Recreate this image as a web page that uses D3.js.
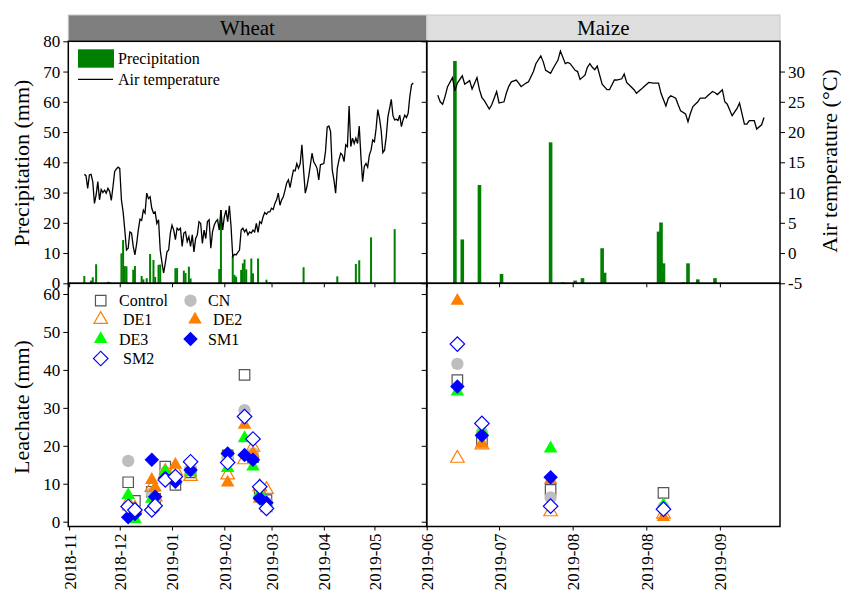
<!DOCTYPE html>
<html>
<head>
<meta charset="utf-8">
<script src="https://cdn.jsdelivr.net/npm/d3@7"></script>
<style>
    body { margin: 0; background: #fff; }
    svg text { font-family: "Liberation Serif", "Times New Roman", serif; fill: #000; }
</style>
</head>
<body>
<div id="chart"></div>
<script>
// daily air temperature, wheat season, first day 2018-11-10
const wheatTempStart = '2018-11-10'
const wheatTemp = [
    13.0, 12.8, 10.7, 12.9, 13.0, 11.8, 8.2, 9.6, 11.8, 8.8,
    10.5, 10.0, 10.4, 9.9, 10.7, 10.2, 8.7, 11.0, 13.5, 13.9, 14.2,
    14.0, 8.8, 6.8, 3.8, 0.5, 0.8, 3.5, 3.3, 1.1, -0.3, 1.5,
    3.8, 5.6, 5.4, 7.1, 6.6, 9.9, 9.0, 9.3, 7.4, 6.6,
    6.8, 4.9, 5.5, 0.5, -1.5, -3.3, -1.7, 0.2, 0.5, 3.3, 4.6,
    3.8, 2.2, 4.1, 3.8, 4.1, 1.1, 3.3, 3.5, 1.9, 2.7,
    1.1, 3.0, 0.2, 2.4, 3.0, 5.2, 4.9, 1.6, 3.8, 2.4,
    5.2, 5.5, 0.8, 3.5, 4.6, 5.2, 5.5, 3.8, 7.1, 3.8,
    6.0, 7.1, 5.2, 7.8, 4.4, -0.6, -0.2, -0.3, 0.1, 0.5,
    3.8, 4.1, 3.5, 3.9, 3.0, 3.5, 3.3, 3.8, 3.5, 4.9,
    3.4, 5.2, 4.9, 6.0, 6.7, 6.4, 6.8, 6.8, 7.4, 7.2,
    8.2, 8.8, 9.9, 7.9, 8.8, 9.3, 10.4, 11.6, 12.1, 10.8,
    12.4, 13.7, 13.6, 14.8, 14.0, 14.8, 17.9, 13.7, 9.9, 11.0,
    12.6, 14.5, 16.5, 15.1, 14.6, 14.0, 12.1, 14.6, 14.7, 14.8, 16.8, 20.8,
    21.0, 20.1, 13.7, 12.1, 9.9, 14.0, 15.4, 16.5, 16.2, 15.1, 17.9,
    17.6, 24.3, 17.6, 19.0, 18.1, 19.0, 18.1, 21.0, 15.9, 11.8,
    14.3, 14.8, 14.2, 16.2, 17.0, 18.7, 18.4, 20.6, 23.7, 22.3,
    20.3, 16.6, 17.0, 19.2, 22.5, 23.9, 25.4, 22.7, 22.0, 22.1,
    21.9, 22.8, 20.9, 22.0, 22.8, 22.4, 23.1, 25.9, 27.8, 28.1
]

// maize season temperature, days counted from 2019-06-07
const maizeTempStart = '2019-06-07'
const maizeTempDay = [0, 1, 2, 3, 4, 6, 7, 8, 10, 11, 13, 14, 16, 17, 18, 19, 21, 22, 23, 24, 25,
    27, 28, 29, 30, 32, 33, 34, 36, 37, 39, 40, 42, 43, 44, 46, 47, 49, 50, 52, 53, 54, 56, 57, 58,
    60, 61, 62, 63, 64, 65, 67, 69, 70, 72, 73, 75, 76, 77, 79, 80, 81, 83, 84, 86, 88, 90, 91,
    93, 94, 95, 97, 98, 99, 101, 102, 103, 104, 106, 107, 109, 110, 112, 113, 114, 116, 117, 118,
    120, 122, 123, 125, 126, 127, 129, 130, 132, 133]
const maizeTemp = [26.1, 25.0, 24.6, 25.9, 27.5, 29.0, 26.8, 28.1, 29.3, 27.9, 28.5, 27.1, 29.0, 27.0,
    25.7, 25.2, 23.8, 24.5, 25.6, 26.7, 24.8, 25.0, 26.5, 27.6, 28.3, 28.6, 28.1, 27.5, 28.1, 28.3,
    30.0, 31.3, 32.6, 31.6, 30.2, 29.7, 30.5, 31.9, 33.4, 31.3, 31.5, 31.3, 30.2, 30.0, 28.7,
    29.4, 30.7, 31.3, 30.7, 30.3, 30.9, 27.9, 27.0, 27.0, 28.6, 28.6, 28.8, 29.6, 28.2, 27.4, 27.0,
    26.4, 27.1, 27.5, 28.2, 28.1, 28.1, 26.4, 24.3, 25.6, 26.0, 25.6, 24.5, 23.5, 23.0, 21.7, 23.1,
    24.2, 25.0, 25.6, 25.6, 26.0, 26.7, 26.5, 26.2, 27.0, 25.0, 24.6, 22.7, 23.9, 24.8, 21.3, 21.3,
    21.9, 21.9, 20.5, 21.2, 22.4]

const wheatRainDates = ['2018-11-10', '2018-11-14', '2018-11-15', '2018-11-17', '2018-11-24', '2018-11-25',
    '2018-12-02', '2018-12-03', '2018-12-04', '2018-12-05', '2018-12-09', '2018-12-10', '2018-12-14',
    '2018-12-15', '2018-12-17', '2018-12-19', '2018-12-21', '2018-12-22', '2018-12-24', '2018-12-25',
    '2019-01-03', '2019-01-04', '2019-01-08', '2019-01-09', '2019-01-11', '2019-01-12', '2019-01-29',
    '2019-01-30', '2019-02-06', '2019-02-07', '2019-02-08', '2019-02-11', '2019-02-12', '2019-02-13',
    '2019-02-14', '2019-02-17', '2019-02-18', '2019-02-21', '2019-02-26', '2019-02-28', '2019-03-05',
    '2019-03-20', '2019-04-09', '2019-04-20', '2019-04-22', '2019-04-29', '2019-05-13']
const wheatRain = [2.4, 0.9, 2.0, 6.3, 0.5, 0.4,
    9.9, 14.3, 5.7, 5.6, 4.5, 5.7, 2.4,
    1.3, 1.7, 9.7, 7.7, 2.1, 6.1, 6.2,
    5.0, 5.0, 4.2, 3.4, 5.5, 1.6, 4.7,
    24.2, 9.0, 2.8, 2.2, 4.4, 6.6, 7.9,
    4.6, 8.2, 3.3, 8.2, 1.2, 0.4, 0.2,
    5.3, 2.3, 6.4, 7.6, 15.2, 17.9]

const maizeRainDates = ['2019-06-14', '2019-06-17', '2019-06-24', '2019-07-03', '2019-07-23', '2019-07-28',
    '2019-08-02', '2019-08-05', '2019-08-13', '2019-08-14', '2019-09-05', '2019-09-06', '2019-09-07',
    '2019-09-15', '2019-09-17', '2019-09-21', '2019-09-28']
const maizeRain = [73.5, 14.5, 32.5, 3.1, 46.6, 0.3,
    0.9, 1.7, 11.6, 3.5, 17.1, 20.1, 6.6,
    0.3, 6.6, 1.3, 1.7]

// leachate
const treatments = ['Control', 'CN', 'DE1', 'DE2', 'DE3', 'SM1', 'SM2']
const wheatLeachDates = ['2018-12-06', '2018-12-10', '2018-12-20', '2018-12-22', '2018-12-28', '2019-01-03',
    '2019-01-12', '2019-02-03', '2019-02-13', '2019-02-18', '2019-02-22', '2019-02-26']
const wheatLeach = [
    [10.4, 5.5, 7.9, 6.0, 14.5, 9.7, 13.0, 17.5, 38.7, 17.0, 7.0, 5.7],   // Control
    [16.0, 3.0, 7.5, 6.0, 13.0, 11.5, 14.0, 17.0, 29.4, 18.0, 6.5, 5.0],  // CN
    [5.0, 3.5, 9.0, 6.5, 12.5, 13.5, 11.9, 12.3, 16.3, 19.6, 9.2, 8.5],   // DE1
    [4.0, 3.0, 11.0, 9.0, 13.5, 15.0, 13.0, 10.3, 25.5, 18.0, 6.0, 3.5],  // DE2
    [7.0, 0.7, 6.0, 5.0, 13.2, 11.0, 13.0, 14.1, 22.0, 14.5, 7.5, 5.0],   // DE3
    [1.2, 2.0, 16.3, 6.6, 11.5, 10.5, 13.6, 18.0, 17.6, 16.3, 6.2, 5.0],  // SM1
    [4.0, 3.1, 3.1, 4.2, 11.0, 11.9, 15.8, 15.6, 27.7, 21.8, 9.2, 3.5]    // SM2
]
const maizeLeachDates = ['2019-06-15', '2019-06-25', '2019-07-23', '2019-09-07']
const maizeLeach = [
    [37.3, 21.1, 8.4, 7.6],   // Control
    [41.6, 23.5, 6.4, 3.8],   // CN
    [16.7, 20.2, 2.6, 2.0],   // DE1
    [58.2, 20.7, 11.0, 1.2],  // DE2
    [34.3, 23.8, 19.3, 4.4],  // DE3
    [35.6, 22.7, 11.7, 3.3],  // SM1
    [46.8, 25.9, 4.1, 3.3]    // SM2
]

const precipTicks = d3.range(0, 81, 10)
const tempTicks = d3.range(-5, 31, 5)
const leachTicks = d3.range(0, 61, 10)
const wheatTicks = ['2018-11-01', '2018-12-01', '2019-01-01', '2019-02-01', '2019-03-01', '2019-04-01', '2019-05-01', '2019-06-01']
const maizeTicks = ['2019-07-02', '2019-08-01', '2019-08-31', '2019-09-30']

document.addEventListener('DOMContentLoaded', () => {
    draw()
});

function draw() {
    const width = 841
    const height = 592
    const parse = d3.timeParse('%Y-%m-%d')
    const fmt = d3.timeFormat('%Y-%m')
    const font = '"Liberation Serif", "Times New Roman", serif'

    // panel edges
    const xL0 = 68.3, xL1 = 426.7, xR1 = 780
    const yS0 = 15, yT0 = 41.3, yT1 = 283.3, yB1 = 526.5

    const svg = d3.select('#chart')
        .append('svg')
        .attr('width', width)
        .attr('height', height)
        .attr('viewBox', [0, 0, width, height]);

    const xW = d3.scaleTime()
        .domain([new Date(2018, 9, 31, 12), new Date(2019, 5, 1)])
        .range([xL0, xL1])
    const xM = d3.scaleTime()
        .domain([new Date(2019, 5, 2, 12), new Date(2019, 9, 24, 12)])
        .range([xL1, xR1])
    const yP = d3.scaleLinear().domain([0, 80]).range([yT1, yT0])
    const yT = d3.scaleLinear().domain([-5, 35]).range([yT1, yT0])
    const yL = d3.scaleLinear().domain([-1.265, 62.82]).range([yB1, yT1])

    // strips
    const strips = [
        { label: 'Wheat', x0: xL0, x1: xL1, fill: '#7f7f7f' },
        { label: 'Maize', x0: xL1, x1: xR1, fill: '#dedede' }
    ]
    const strip = svg.append('g').selectAll('g').data(strips).enter().append('g')
    strip.append('rect')
        .attr('x', d => d.x0).attr('y', yS0)
        .attr('width', d => d.x1 - d.x0).attr('height', yT0 - yS0)
        .attr('fill', d => d.fill)
        .attr('stroke', '#c8c8c8')
    strip.append('text')
        .attr('x', d => (d.x0 + d.x1) / 2).attr('y', yS0 + 20)
        .attr('text-anchor', 'middle')
        .attr('font-size', 21)
        .text(d => d.label)

    // precipitation bars
    const wheatRainData = wheatRainDates.map((d, i) => ({ date: parse(d), p: wheatRain[i] }))
    const maizeRainData = maizeRainDates.map((d, i) => ({ date: parse(d), p: maizeRain[i] }))
    const bars = svg.append('g').attr('fill', '#008000')
    bars.selectAll('rect.w')
        .data(wheatRainData)
        .enter()
        .append('rect')
        .attr('class', 'w')
        .attr('x', d => xW(d.date) - 1)
        .attr('width', 2)
        .attr('y', d => yP(d.p))
        .attr('height', d => yP(0) - yP(d.p))
    bars.selectAll('rect.m')
        .data(maizeRainData)
        .enter()
        .append('rect')
        .attr('class', 'm')
        .attr('x', d => xM(d.date) - 1.8)
        .attr('width', 3.6)
        .attr('y', d => yP(d.p))
        .attr('height', d => yP(0) - yP(d.p))

    // air temperature lines
    const wStart = parse(wheatTempStart)
    const mStart = parse(maizeTempStart)
    const wheatTempData = wheatTemp.map((t, i) => ({ date: d3.timeDay.offset(wStart, i), t }))
    const maizeTempData = maizeTemp.map((t, i) => ({ date: d3.timeDay.offset(mStart, maizeTempDay[i]), t }))
    svg.append('path')
        .datum(wheatTempData)
        .attr('fill', 'none').attr('stroke', '#000').attr('stroke-width', 1.3)
        .attr('d', d3.line().x(d => xW(d.date)).y(d => yT(d.t)))
    svg.append('path')
        .datum(maizeTempData)
        .attr('fill', 'none').attr('stroke', '#000').attr('stroke-width', 1.3)
        .attr('d', d3.line().x(d => xM(d.date)).y(d => yT(d.t)))

    // leachate markers
    const markerStyle = [
        { shape: d3.symbolSquare, size: 110, rot: 0, fill: 'none', stroke: '#555' },
        { shape: d3.symbolCircle, size: 120, rot: 0, fill: '#bebebe', stroke: 'none' },
        { shape: d3.symbolTriangle, size: 80, rot: 0, fill: 'none', stroke: '#ff7f00' },
        { shape: d3.symbolTriangle, size: 80, rot: 0, fill: '#ff7f00', stroke: 'none' },
        { shape: d3.symbolTriangle, size: 80, rot: 0, fill: '#00ff00', stroke: 'none' },
        { shape: d3.symbolSquare, size: 105, rot: 45, fill: '#0000ff', stroke: 'none' },
        { shape: d3.symbolSquare, size: 105, rot: 45, fill: '#fff', stroke: '#0000ff' }
    ]
    const drawMarker = (sel, i) => sel
        .attr('d', d3.symbol().type(markerStyle[i].shape).size(markerStyle[i].size))
        .attr('fill', markerStyle[i].fill)
        .attr('stroke', markerStyle[i].stroke)
        .attr('stroke-width', 1.2)

    const pts = svg.append('g')
    treatments.forEach((name, i) => {
        const data = wheatLeachDates.map((d, j) => ({ x: xW(parse(d)), v: wheatLeach[i][j] }))
            .concat(maizeLeachDates.map((d, j) => ({ x: xM(parse(d)), v: maizeLeach[i][j] })))
        pts.append('g').selectAll('path')
            .data(data)
            .enter()
            .append('path')
            .attr('transform', d => `translate(${d.x},${yL(d.v)}) rotate(${markerStyle[i].rot})`)
            .call(drawMarker, i)
    })

    // panel borders
    const panels = [
        [xL0, yT0, xL1, yT1], [xL1, yT0, xR1, yT1],
        [xL0, yT1, xL1, yB1], [xL1, yT1, xR1, yB1]
    ]
    svg.append('g').selectAll('rect')
        .data(panels)
        .enter()
        .append('rect')
        .attr('x', d => d[0]).attr('y', d => d[1])
        .attr('width', d => d[2] - d[0]).attr('height', d => d[3] - d[1])
        .attr('fill', 'none').attr('stroke', '#000').attr('stroke-width', 1.5)

    // axes
    const styleAxis = g => {
        g.select('.domain').remove()
        g.attr('font-family', font).attr('font-size', 17)
        g.selectAll('line').attr('stroke', '#000')
    }
    svg.append('g').attr('transform', `translate(${xL0},0)`)
        .call(d3.axisLeft(yP).tickValues(precipTicks).tickSize(5).tickPadding(3).tickFormat(d => String(d)))
        .call(styleAxis)
    svg.append('g').attr('transform', `translate(${xL1},0)`)
        .call(d3.axisLeft(yP).tickValues(precipTicks).tickSize(5).tickFormat(''))
        .call(styleAxis)
    svg.append('g').attr('transform', `translate(${xR1},0)`)
        .call(d3.axisRight(yT).tickValues(tempTicks).tickSize(5).tickPadding(3).tickFormat(d => String(d)))
        .call(styleAxis)
    svg.append('g').attr('transform', `translate(${xL0},0)`)
        .call(d3.axisLeft(yL).tickValues(leachTicks).tickSize(5).tickPadding(3).tickFormat(d => String(d)))
        .call(styleAxis)
    svg.append('g').attr('transform', `translate(${xL1},0)`)
        .call(d3.axisLeft(yL).tickValues(leachTicks).tickSize(5).tickFormat(''))
        .call(styleAxis)

    // x ticks under the top panels
    svg.append('g').attr('transform', `translate(0,${yT1})`)
        .call(d3.axisBottom(xW).tickValues(wheatTicks.map(parse)).tickSize(4).tickFormat(''))
        .call(styleAxis)
    svg.append('g').attr('transform', `translate(0,${yT1})`)
        .call(d3.axisBottom(xM).tickValues(maizeTicks.map(parse)).tickSize(4).tickFormat(''))
        .call(styleAxis)

    // date axes
    const rotateLabels = g => g.selectAll('text')
        .attr('transform', 'rotate(-90)')
        .attr('text-anchor', 'end')
        .attr('x', -7)
        .attr('y', 0)
        .attr('dy', '0.35em')
    svg.append('g').attr('transform', `translate(0,${yB1})`)
        .call(d3.axisBottom(xW).tickValues(wheatTicks.map(parse)).tickSize(4).tickFormat(fmt))
        .call(styleAxis)
        .call(rotateLabels)
    svg.append('g').attr('transform', `translate(0,${yB1})`)
        .call(d3.axisBottom(xM).tickValues(maizeTicks.map(parse)).tickSize(4).tickFormat(fmt))
        .call(styleAxis)
        .call(rotateLabels)

    // axis titles
    const titles = [
        { label: 'Precipitation (mm)', x: 21, y: 163 },
        { label: 'Leachate (mm)', x: 21, y: 407 },
        { label: 'Air temperature (°C)', x: 829, y: 161 }
    ]
    svg.append('g').selectAll('text')
        .data(titles)
        .enter()
        .append('text')
        .attr('transform', d => `translate(${d.x},${d.y}) rotate(-90)`)
        .attr('text-anchor', 'middle')
        .attr('dy', '0.35em')
        .attr('font-size', 22)
        .text(d => d.label)

    // weather legend
    const wLegend = svg.append('g')
    wLegend.append('rect')
        .attr('x', 78).attr('y', 49.3).attr('width', 36).attr('height', 18.4)
        .attr('fill', '#008000')
    wLegend.append('line')
        .attr('x1', 78).attr('x2', 113).attr('y1', 79.3).attr('y2', 79.3)
        .attr('stroke', '#000').attr('stroke-width', 1.3)
    wLegend.append('text').attr('x', 118).attr('y', 64).attr('font-size', 16).text('Precipitation')
    wLegend.append('text').attr('x', 118).attr('y', 84.5).attr('font-size', 16).text('Air temperature')

    // treatment legend
    const legendPos = [
        { x: 100.7, y: 300.7, tx: 119 },
        { x: 190.5, y: 300.7, tx: 208 },
        { x: 100.7, y: 319.5, tx: 123 },
        { x: 195, y: 319.5, tx: 213 },
        { x: 100.7, y: 339, tx: 119 },
        { x: 190.5, y: 339, tx: 208 },
        { x: 100.7, y: 358.5, tx: 123 }
    ]
    const legendEntry = svg.append('g').selectAll('g')
        .data(treatments)
        .enter()
        .append('g')
    legendEntry.each(function (name, i) {
        const g = d3.select(this)
        g.append('path')
            .attr('transform', `translate(${legendPos[i].x},${legendPos[i].y}) rotate(${markerStyle[i].rot})`)
            .call(drawMarker, i)
        g.append('text')
            .attr('x', legendPos[i].tx)
            .attr('y', legendPos[i].y)
            .attr('dy', '0.35em')
            .attr('font-size', 16)
            .text(name)
    })
}
</script>
</body>
</html>
